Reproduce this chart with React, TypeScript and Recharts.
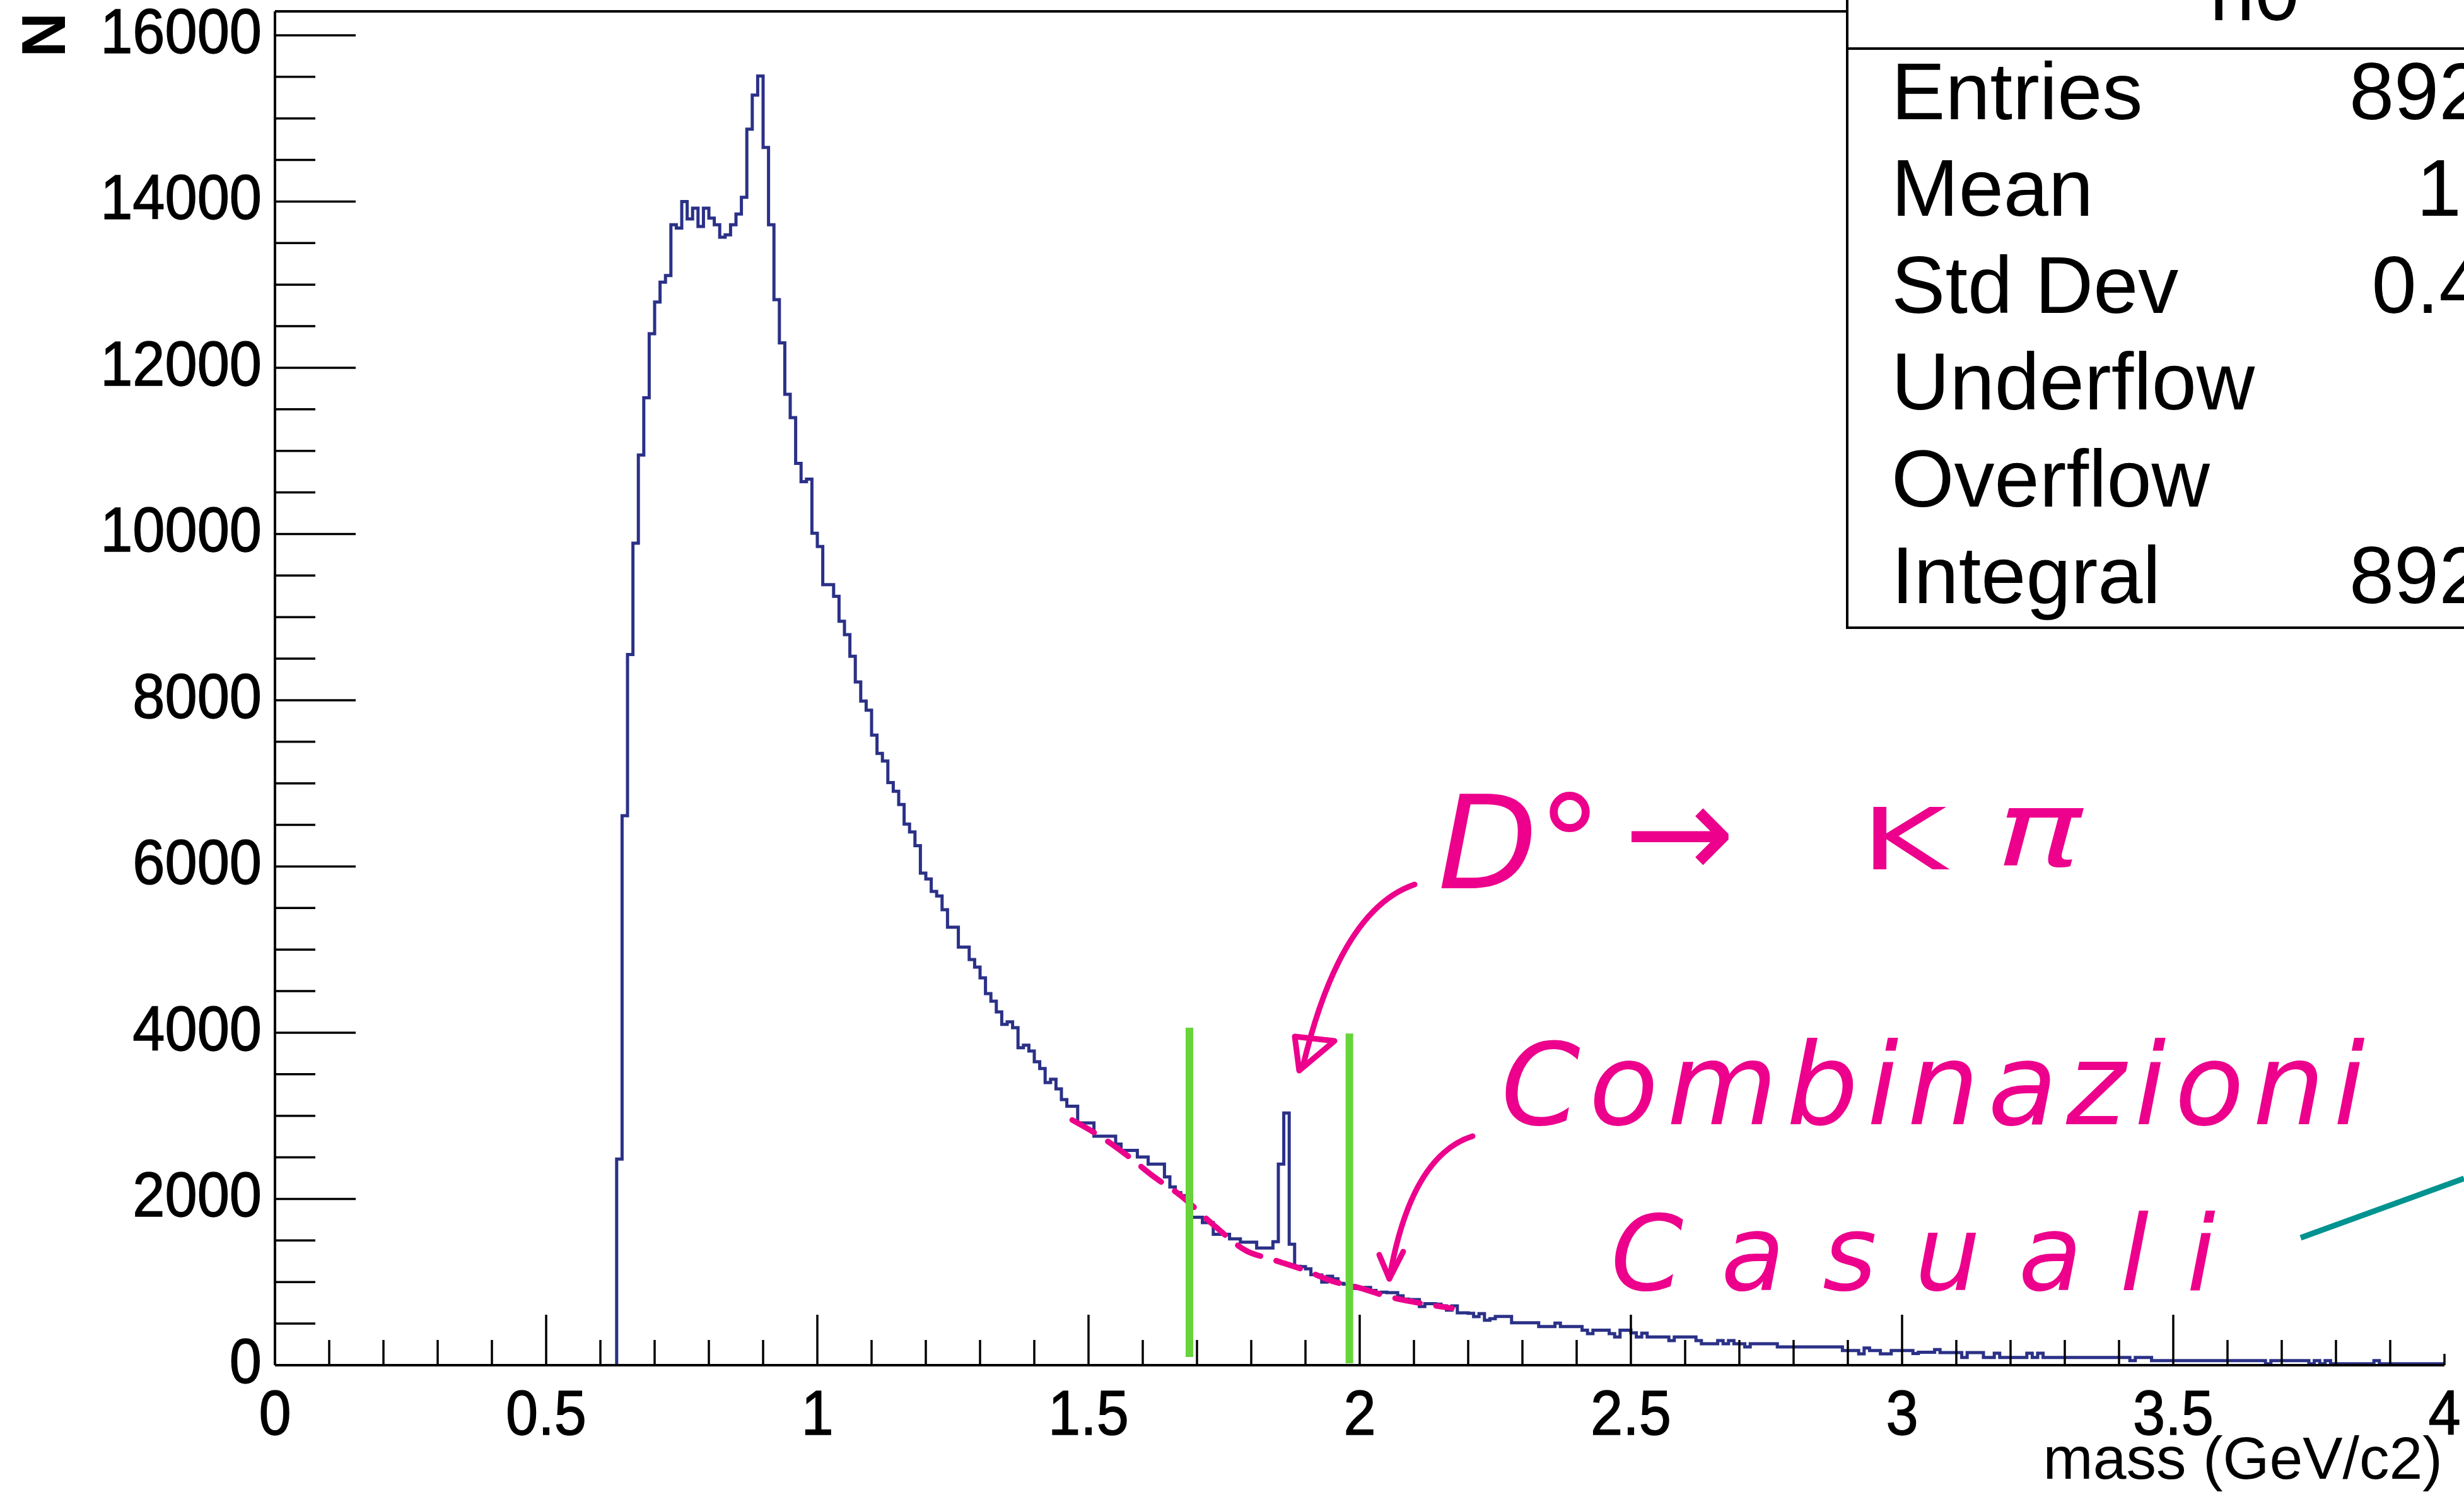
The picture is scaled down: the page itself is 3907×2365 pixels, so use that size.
import React from "react";
import { LineChart, Line, XAxis, YAxis, ReferenceLine } from "recharts";

document.body.style.margin = "0";
document.body.style.overflow = "hidden";

const W = 3907;
const H = 2365;
const FONT = "'Liberation Sans', Arial, Helvetica, sans-serif";
const PINK = "#EC008C";

// h0: bins of 0.01 GeV/c2, the first filled bin starts at 0.63
const BIN_WIDTH = 0.01;
const FIRST_BIN = 0.63;
const binCounts = [
  2480, 6610, 8550, 9890, 10950, 11640, 12410, // 0.63-0.69
  12790, 13030, 13110, 13720, 13680, 14000, 13790, 13920, 13700, 13920, // 0.7
  13800, 13720, 13570, 13600, 13720, 13850, 14050, 14870, 15280, 15510, // 0.8
  14650, 13720, 12820, 12300, 11680, 11400, 10850, 10630, 10660, 10010, // 0.9
  9850, 9390, 9390, 9250, 8950, 8790, 8530, 8220, 7990, 7880, // 1.0
  7580, 7360, 7270, 7010, 6905, 6745, 6510, 6415, 6250, 5920, // 1.1
  5850, 5700, 5645, 5480, 5270, 5270, 5030, 5030, 4880, 4790, // 1.2
  4660, 4470, 4380, 4250, 4100, 4130, 4060, 3820, 3850, 3780, // 1.3
  3650, 3570, 3400, 3440, 3325, 3195, 3115, 3115, 2915, 2915, // 1.4
  2915, 2755, 2755, 2755, 2755, 2660, 2585, 2585, 2585, 2505, // 1.5
  2505, 2420, 2420, 2420, 2265, 2145, 2075, 2040, 2040, 1780, // 1.6
  1780, 1715, 1715, 1575, 1575, 1575, 1520, 1520, 1480, 1480, // 1.7
  1480, 1410, 1410, 1410, 1485, 2420, 3035, 1455, 1190, 1185, // 1.8
  1160, 1090, 1085, 1000, 1070, 1040, 985, 975, 960, 925, // 1.9
  925, 935, 900, 875, 878, 873, 873, 835, 795, 790, // 2.0
  790, 705, 740, 740, 735, 713, 663, 713, 630, 630, // 2.1
  625, 585, 620, 540, 560, 587, 587, 587, 511, 511, // 2.2
  511, 511, 511, 465, 465, 465, 506, 465, 465, 465, // 2.3
  465, 422, 379, 422, 422, 422, 379, 339, 422, 422, // 2.4
  389, 339, 385, 339, 339, 339, 339, 296, 339, 339, // 2.5
  339, 339, 296, 258, 258, 258, 296, 258, 296, 258, // 2.6
  258, 220, 258, 258, 258, 258, 258, 220, 220, 220, // 2.7
  220, 220, 220, 220, 220, 220, 220, 220, 220, 177, // 2.8
  177, 177, 136, 207, 177, 177, 136, 136, 177, 177, // 2.9
  177, 177, 140, 155, 155, 155, 187, 152, 152, 152, // 3.0
  152, 93, 152, 152, 152, 93, 93, 144, 93, 93, // 3.1
  93, 93, 93, 144, 93, 144, 93, 93, 93, 93, // 3.2
  93, 93, 93, 93, 93, 93, 93, 93, 93, 93, // 3.3
  93, 93, 55, 93, 93, 93, 55, 55, 55, 55, // 3.4
  55, 55, 55, 55, 55, 55, 55, 55, 55, 55, // 3.5
  55, 55, 55, 55, 55, 55, 55, 17, 55, 55, // 3.6
  55, 55, 55, 55, 55, 17, 55, 17, 55, 17, // 3.7
  17, 17, 17, 17, 17, 17, 17, 55, 17, 17, // 3.8
  17, 17, 17, 17, 17, 17, 17, 17, 17, 17, // 3.9
];

// hand-drawn background under the D0 peak (pink dashes)
const bgMass = [1.47, 1.52, 1.57, 1.62, 1.67, 1.73, 1.79, 1.84, 1.9, 1.95, 2.0, 2.05, 2.1, 2.17];
const bgCounts = [2950, 2760, 2530, 2270, 2040, 1690, 1380, 1270, 1140, 1010, 930, 830, 760, 685];

// green side-band marks
const bandMass = [1.686, 1.981];
const bandTop = [4060, 3990];
const bandBottom = [99, 23];

const xMajor = [0, 0.5, 1, 1.5, 2, 2.5, 3, 3.5, 4];
const yMajor = [0, 2000, 4000, 6000, 8000, 10000, 12000, 14000, 16000];
const Y_MAX = 16288;

const statsLabels = ["Entries", "Mean", "Std Dev", "Underflow", "Overflow", "Integral"];
const statsValues = ["892430", "1.198", "0.4217", "0", "0", "892430"];

const xTicks = Array.from({ length: 41 }, (_, i) => i / 10);
const yTicks = Array.from({ length: 33 }, (_, i) => i * 500);

const histData = [
  { m: FIRST_BIN, n: 0 },
  ...binCounts.map((n, i) => ({ m: +(FIRST_BIN + i * BIN_WIDTH).toFixed(2), n })),
  { m: 4, n: binCounts[binCounts.length - 1] },
];
const bgData = bgMass.map((m, i) => ({ m, n: bgCounts[i] }));

function XTick(props: any) {
  const { x, y, payload } = props;
  const v = payload.value;
  const major = xMajor.some((t) => Math.abs(t - v) < 1e-6);
  const len = v >= 4 ? 18 : major ? 80 : 40;
  return (
    <g>
      <line x1={x} y1={y} x2={x} y2={y - len} stroke="#000" strokeWidth={3.5} />
      {major && (
        <text
          transform={`translate(${x},${y + 110}) scale(0.92,1)`}
          textAnchor="middle"
          fontSize={100}
          fontFamily={FONT}
          fill="#000"
          stroke="#000"
          strokeWidth={1.5}
        >
          {String(v)}
        </text>
      )}
    </g>
  );
}

function YTick(props: any) {
  const { x, y, payload } = props;
  const v = payload.value;
  const major = yMajor.includes(v);
  return (
    <g>
      <line x1={x} y1={y} x2={x + (major ? 128 : 64)} y2={y} stroke="#000" strokeWidth={3.5} />
      {major && (
        <text
          transform={`translate(${x - 21},${y + 28}) scale(0.92,1)`}
          textAnchor="end"
          fontSize={100}
          fontFamily={FONT}
          fill="#000"
          stroke="#000"
          strokeWidth={1.5}
        >
          {v}
        </text>
      )}
    </g>
  );
}

export default function App() {
  return (
    <div style={{ position: "relative", width: W, height: H, overflow: "hidden", background: "#fff" }}>
      <LineChart width={W} height={H} data={histData} margin={{ top: 18, right: 31, left: 0, bottom: 0 }}>
        <XAxis
          type="number"
          dataKey="m"
          domain={[0, 4]}
          ticks={xTicks}
          interval={0}
          tick={(p: any) => <XTick {...p} />}
          tickLine={false}
          tickSize={0}
          tickMargin={0}
          height={201}
          axisLine={{ stroke: "#000", strokeWidth: 4 }}
          allowDataOverflow
        />
        <YAxis
          type="number"
          domain={[0, Y_MAX]}
          ticks={yTicks}
          interval={0}
          tick={(p: any) => <YTick {...p} />}
          tickLine={false}
          tickSize={0}
          tickMargin={0}
          width={436}
          axisLine={{ stroke: "#000", strokeWidth: 4 }}
          allowDataOverflow
        />
        <ReferenceLine y={Y_MAX} stroke="#000" strokeWidth={4} />
        <Line
          type="stepAfter"
          dataKey="n"
          stroke="#2b3187"
          strokeWidth={5}
          dot={false}
          activeDot={false}
          isAnimationActive={false}
        />
        <Line
          data={bgData}
          type="monotone"
          dataKey="n"
          stroke={PINK}
          strokeWidth={9}
          strokeDasharray="40 26"
          strokeLinecap="round"
          dot={false}
          activeDot={false}
          isAnimationActive={false}
        />
        {bandMass.map((m, i) => (
          <ReferenceLine
            key={m}
            segment={[
              { x: m, y: bandTop[i] },
              { x: m, y: bandBottom[i] },
            ]}
            stroke="#66D43A"
            strokeWidth={12}
          />
        ))}
      </LineChart>

      <svg width={W} height={H} style={{ position: "absolute", left: 0, top: 0, pointerEvents: "none" }}>
        {/* stats box */}
        <rect x={2929} y={-200} width={1400} height={1195} fill="#fff" stroke="#000" strokeWidth={4} />
        <line x1={2929} y1={77} x2={W} y2={77} stroke="#000" strokeWidth={4} />
        <text x={3575} y={32} textAnchor="middle" fontSize={128} fontFamily={FONT}>
          h0
        </text>
        {statsLabels.map((s, i) => (
          <text key={s} x={2999} y={189 + i * 153.4} fontSize={128} fontFamily={FONT}>
            {s}
          </text>
        ))}
        {statsValues.map((s, i) => (
          <text key={i} x={4152} y={189 + i * 153.4} textAnchor="end" fontSize={128} fontFamily={FONT}>
            {s}
          </text>
        ))}

        {/* axis titles */}
        <text transform="translate(103,20) rotate(-90)" textAnchor="end" fontSize={98} fontWeight="bold" fontFamily={FONT}>
          N
        </text>
        <text x={3873} y={2344} textAnchor="end" fontSize={95} fontFamily={FONT}>
          mass (GeV/c2)
        </text>

        {/* handwritten notes */}
        <g fill={PINK} fontFamily="'DejaVu Sans', sans-serif" fontStyle="italic">
          <text x={2280} y={1408} fontSize={205}>D°</text>
          <text x={2575} y={1392} fontSize={210}>→</text>
          <text x={2950} y={1378} fontSize={135} fontStyle="normal" textLength={137} lengthAdjust="spacingAndGlyphs">K</text>
          <text x={3165} y={1372} fontSize={165} textLength={136} lengthAdjust="spacingAndGlyphs">π</text>
          <text x={2380} y={1782} fontSize={180} textLength={1370} lengthAdjust="spacing">
            Combinazioni
          </text>
          <text x={2554} y={2045} fontSize={165} textLength={959} lengthAdjust="spacing">
            Casuali
          </text>
        </g>
        <g fill="none" stroke={PINK} strokeWidth={9} strokeLinecap="round" strokeLinejoin="round">
          <path d="M2243,1402 C2175,1425 2110,1505 2066,1690" />
          <path d="M2053,1643 L2060,1697 L2116,1650 Z" />
          <path d="M2335,1801 C2268,1822 2225,1900 2203,2027" />
          <path d="M2187,1989 L2203,2027 L2225,1984" />
        </g>
        <line x1={3648} y1={1962} x2={3907} y2={1868} stroke="#00938F" strokeWidth={9} />
      </svg>
    </div>
  );
}
